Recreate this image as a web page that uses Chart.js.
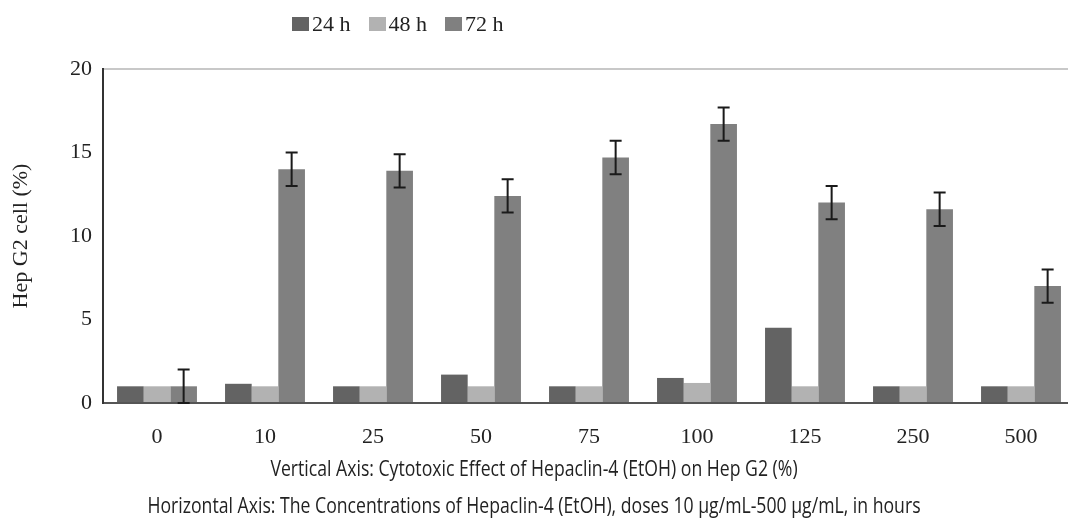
<!DOCTYPE html>
<html>
<head>
<meta charset="utf-8">
<script src="https://cdn.jsdelivr.net/npm/chart.js@4"></script>
<style>
  html, body { margin: 0; padding: 0; background: #fff; overflow: hidden; width: 1068px; height: 525px; }
  #wrap { position: absolute; left: 0; top: 0; width: 1082px; height: 470px; }
  #legend { position: absolute; left: 292px; top: 10px; font: 22px "Liberation Serif", serif; color: #222; display: flex; line-height: 28px; }
  #legend span.item { display: flex; align-items: center; margin-right: 18px; }
  #legend span.box { width: 17px; height: 14px; margin-right: 3px; display: inline-block; }
  .cap { position: absolute; left: 0; width: 1068px; text-align: center; font: 21px "Open Sans", sans-serif; color: #222; transform: scaleX(0.84); transform-origin: 534px 0; white-space: nowrap; }
</style>
</head>
<body>
<div id="wrap"><canvas id="cytoChart"></canvas></div>
<div id="legend"></div>
<div class="cap" style="top:454px">Vertical Axis: Cytotoxic Effect of Hepaclin-4 (EtOH) on Hep G2 (%)</div>
<div class="cap" style="top:491px">Horizontal Axis: The Concentrations of Hepaclin-4 (EtOH), doses 10 μg/mL-500 μg/mL, in hours</div>
<script>
const doses = ['0', '10', '25', '50', '75', '100', '125', '250', '500'];
const h24 = [1, 1.15, 1, 1.7, 1, 1.5, 4.5, 1, 1];
const h48 = [1, 1, 1, 1, 1, 1.2, 1, 1, 1];
const h72 = [1, 14, 13.9, 12.4, 14.7, 16.7, 12, 11.6, 7];
const h72err = [1, 1, 1, 1, 1, 1, 1, 1, 1];
const yTicks = [0, 5, 10, 15, 20];

// draws the +/- error bars for the 72 h series
const errorBars = {
  id: 'errorBars',
  afterDatasetsDraw(chart) {
    const ctx = chart.ctx;
    const meta = chart.getDatasetMeta(2);
    const y = chart.scales.y;
    ctx.save();
    ctx.strokeStyle = '#1a1a1a';
    ctx.lineWidth = 2;
    meta.data.forEach((bar, i) => {
      const top = y.getPixelForValue(h72[i] + h72err[i]);
      const bot = y.getPixelForValue(Math.max(0, h72[i] - h72err[i]));
      ctx.beginPath();
      ctx.moveTo(bar.x, top); ctx.lineTo(bar.x, bot);
      ctx.moveTo(bar.x - 6, top); ctx.lineTo(bar.x + 6, top);
      ctx.moveTo(bar.x - 6, bot); ctx.lineTo(bar.x + 6, bot);
      ctx.stroke();
    });
    ctx.restore();
  }
};

const serif = { family: '"Liberation Serif", serif', size: 22 };

const chart = new Chart(document.getElementById('cytoChart'), {
  type: 'bar',
  data: {
    labels: doses,
    datasets: [
      { label: '24 h', data: h24, backgroundColor: '#636363' },
      { label: '48 h', data: h48, backgroundColor: '#b2b2b2' },
      { label: '72 h', data: h72, backgroundColor: '#808080' }
    ]
  },
  options: {
    responsive: true,
    maintainAspectRatio: false,
    animation: false,
    layout: { padding: { top: 69, left: 0, right: 7, bottom: 22 } },
    datasets: { bar: { categoryPercentage: 0.74, barPercentage: 1.0 } },
    plugins: { legend: { display: false }, tooltip: { enabled: false } },
    scales: {
      x: {
        afterFit: (axis) => { axis.height = 45; },
        grid: { display: false },
        border: { color: '#555', width: 2 },
        ticks: { color: '#222', font: serif, padding: 13, maxRotation: 0 }
      },
      y: {
        min: 0, max: 20,
        afterBuildTicks: (axis) => { axis.ticks = yTicks.map(v => ({ value: v })); },
        afterFit: (axis) => { axis.width = 103; },
        grid: {
          drawTicks: false,
          color: (c) => c.tick && c.tick.value === 20 ? '#c8c8c8' : 'rgba(0,0,0,0)',
          lineWidth: 2
        },
        border: { color: '#333', width: 2 },
        ticks: { color: '#222', font: serif, padding: 11 },
        title: { display: true, text: 'Hep G2 cell (%)', color: '#222', font: serif, padding: { top: 8, bottom: 0 } }
      }
    }
  },
  plugins: [errorBars]
});

const legend = document.getElementById('legend');
chart.data.datasets.forEach(ds => {
  const item = document.createElement('span');
  item.className = 'item';
  item.innerHTML = '<span class="box" style="background:' + ds.backgroundColor + '"></span>' + ds.label;
  legend.appendChild(item);
});
</script>
</body>
</html>
